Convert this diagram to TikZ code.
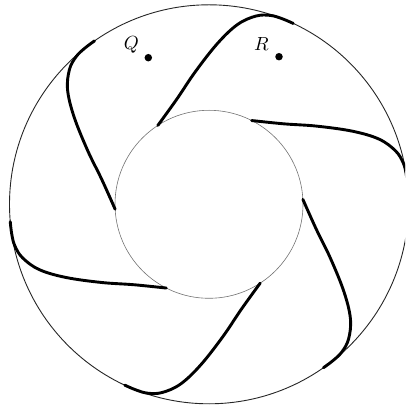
\documentclass[tikz,border=0pt]{standalone}
\begin{document}
\begin{tikzpicture}[x=1pt,y=1pt,
  outerc/.style={line width=0.9pt,black!85},
  innerc/.style={line width=0.6pt,black!55},
  curve/.style={line width=2.9pt,black,line cap=round},
  pt/.style={circle,fill=black,inner sep=0pt,minimum size=7.5pt},
  lbl/.style={scale=1.9,transform shape}]
\useasboundingbox (0,0) rectangle (405,406);
\clip (0,0) rectangle (405,406);
\coordinate (O) at (209,201.7);
\draw[outerc] (O) circle (199.5);
\draw[innerc] (O) circle (94);
\begin{scope}[shift={(209,201.7)}]
\foreach \k in {0,...,5} {
  \draw[curve, rotate=60*\k] plot[smooth, tension=0.6] coordinates
    {(123:94) (107:110) (96:133) (87:161) (81:182) (76:194) (72:198.6) (68.5:199.5) (65:199.5)};
}
\end{scope}
\node[pt] (q) at (148.3,348.3) {};
\node[pt] (r) at (279,349.3) {};
\node[lbl] (ql) at (131.5,361) {$Q$};
\node[lbl] (rl) at (261.5,362) {$R$};
\end{tikzpicture}
\end{document}
